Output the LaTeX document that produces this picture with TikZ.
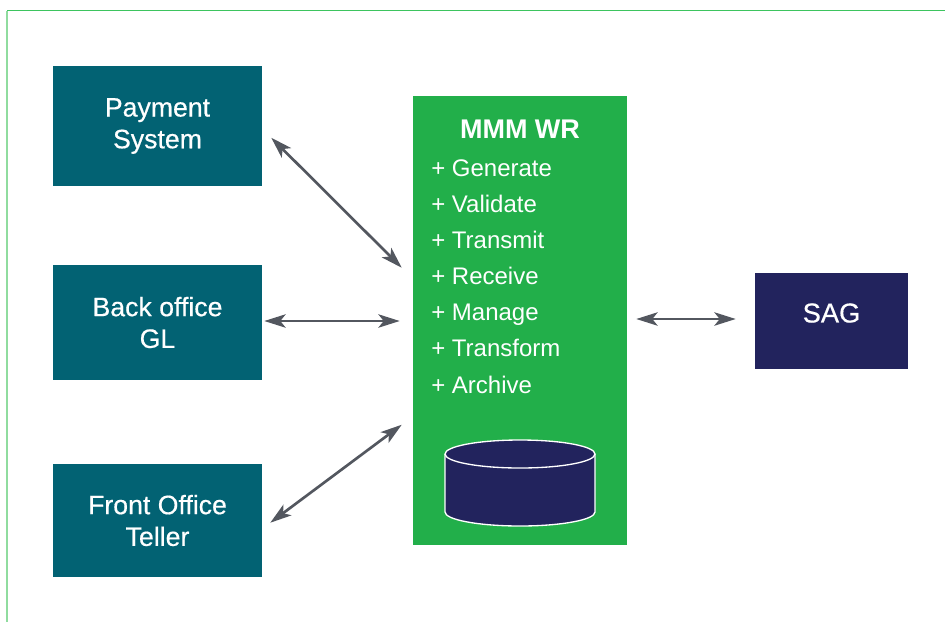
\documentclass[tikz,border=0pt]{standalone}
\usepackage{fontspec}
\setmainfont{Liberation Sans}
\newfontfamily\medfont[FakeBold=0.5]{Liberation Sans}
\usetikzlibrary{arrows.meta,calc}
\definecolor{systeal}{HTML}{026273}
\definecolor{wrgreen}{HTML}{22AF4A}
\definecolor{sagnavy}{HTML}{22235D}
\definecolor{arrgray}{HTML}{53575F}
\definecolor{frametop}{HTML}{3DC45F}
\definecolor{frameleft}{HTML}{90DC9F}
\begin{document}
\begin{tikzpicture}[x=0.75pt,y=-0.75pt,
  sysbox/.style={fill=systeal, text=white, inner sep=0pt, align=center,
    font=\medfont\fontsize{20}{23.8}\selectfont, minimum width=209*0.75pt},
  sagbox/.style={fill=sagnavy, text=white, inner sep=0pt,
    font=\medfont\fontsize{20.5}{24}\selectfont, minimum width=153*0.75pt, minimum height=96*0.75pt},
  wrbox/.style={fill=wrgreen, inner sep=0pt, minimum width=214*0.75pt, minimum height=449*0.75pt},
  wrtitle/.style={text=white, inner sep=0pt, font=\fontsize{20.25}{24}\selectfont\bfseries},
  item/.style={text=white, inner sep=0pt, font=\fontsize{18}{22}\selectfont},
  arr/.style={draw=arrgray, line width=2pt,
    {Stealth[length=16pt,width=10pt,inset=4pt]}-{Stealth[length=16pt,width=10pt,inset=4pt]}}
]
\useasboundingbox (0,0) rectangle (945,622);
% frame
\draw[frametop, line width=0.9pt] (7,10.5) -- (945,10.5);
\draw[frameleft, line width=0.9pt] (7,10.5) -- (7,622);

% left systems
\node[sysbox, minimum height=120*0.75pt] (pay) at (157.5,126) {Payment\\System};
\node[sysbox, minimum height=115*0.75pt] (bo) at (157.5,322.5) {Back office\\GL};
\node[sysbox, minimum height=113*0.75pt] (fo) at (157.5,520.5) {Front Office\\Teller};

% central box
\node[wrbox] (wr) at (520,320.5) {};
\node[wrtitle, anchor=base] (title) at (520,138.3) {MMM WR};
\foreach \t [count=\i from 0] in {Generate,Validate,Transmit,Receive,Manage,Transform,Archive}
  \node[item, anchor=base west] (it\i) at (431,{176+36.17*\i}) {+ \t};

% database cylinder
\fill[sagnavy] (445,454) rectangle (595,512);
\draw[white, line width=1pt, fill=sagnavy] (445,454) -- (445,512)
  arc[start angle=180, end angle=360, x radius=56.25pt, y radius=10.5pt] -- (595,454);
\draw[white, line width=1pt, fill=sagnavy] (520,454) ellipse[x radius=56.25pt, y radius=10.5pt];

% SAG
\node[sagbox] (sag) at (831.5,321) {\raisebox{-1.1pt}[0pt][0pt]{SAG}};

% connectors
\draw[arr] ($(pay.north east)+(9,72)$) -- ($(wr.north west)+(-11,172)$);
\draw[arr] ($(bo.east)+(2,-1.5)$) -- ($(wr.west)+(-13,0.5)$);
\draw[arr] ($(fo.north east)+(8,59)$) -- ($(wr.north west)+(-11,329)$);
\draw[arr] ($(wr.east)+(9,-1.5)$) -- ($(sag.west)+(-19,-2)$);
\end{tikzpicture}
\end{document}
